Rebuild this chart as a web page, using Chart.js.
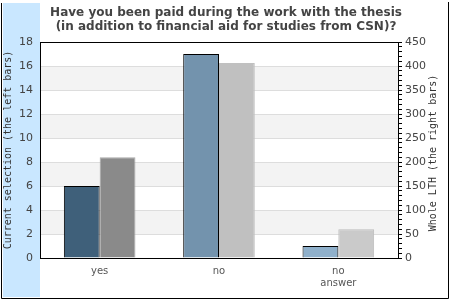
<!DOCTYPE html>
<html>
<head>
<meta charset="utf-8">
<script src="https://cdn.jsdelivr.net/npm/chart.js@4/dist/chart.umd.min.js"></script>
<style>
  body { margin: 0; background: #fff; }
</style>
</head>
<body>
<canvas id="chart" width="450" height="300"></canvas>
<script>
// answers and counts
var categories = ["yes", "no", ["no", "answer"]];
var currentSelection = [6, 17, 1];     // left bars, left axis
var wholeLTH = [210, 406, 60];         // right bars, right axis
var titleLines = ["Have you been paid during the work with the thesis",
                  "(in addition to financial aid for studies from CSN)?"];
var rightTitle = "Whole LTH (the right bars)";

var leftColors = ["#3f607a", "#7393ad", "#8fb0cb"];
var rightColors = ["#8a8a8a", "#c0c0c0", "#cacaca"];
var rightBorders = ["#a8a8a8", "#c0c0c0", "#bcbcbc"];

// light blue strip, grey bands, titles and frame
var decor = {
  id: "decor",
  beforeDraw: function(chart) {
    var ctx = chart.ctx, a = chart.chartArea, y = chart.scales.y;
    ctx.save();
    ctx.fillStyle = "#c9e7ff";
    ctx.fillRect(3, 3, 37, 294);
    ctx.fillStyle = "#f3f3f3";
    for (var v = 2; v < 18; v += 4) {
      var top = y.getPixelForValue(v + 2), bot = y.getPixelForValue(v);
      ctx.fillRect(a.left, top, a.right - a.left, bot - top);
    }
    ctx.restore();
  },
  afterDraw: function(chart) {
    var ctx = chart.ctx, a = chart.chartArea;
    ctx.save();
    ctx.fillStyle = "#444";
    ctx.font = "bold 12px 'DejaVu Sans'";
    ctx.textAlign = "center";
    ctx.textBaseline = "alphabetic";
    ctx.fillText(titleLines[0], 226, 16);
    ctx.fillText(titleLines[1], 226, 30);

    // right axis title reads bottom to top like the left one
    ctx.save();
    ctx.translate(433, 153);
    ctx.rotate(-Math.PI / 2);
    ctx.fillStyle = "#333";
    ctx.font = "10px 'DejaVu Sans Mono'";
    ctx.textBaseline = "middle";
    ctx.fillText(rightTitle, 0, 0);
    ctx.restore();

    ctx.strokeStyle = "#000";
    ctx.lineWidth = 1;
    ctx.beginPath();
    ctx.moveTo(a.left, Math.round(a.top) + 0.5);
    ctx.lineTo(a.right, Math.round(a.top) + 0.5);
    ctx.moveTo(1.5, 3);
    ctx.lineTo(1.5, 298.5);
    ctx.lineTo(448.5, 298.5);
    ctx.lineTo(448.5, 2);
    ctx.stroke();
    ctx.restore();
  }
};

new Chart(document.getElementById("chart"), {
  type: "bar",
  data: {
    labels: categories,
    datasets: [{
      label: "Current selection",
      data: currentSelection,
      yAxisID: "y",
      backgroundColor: leftColors,
      borderColor: "#000",
      borderWidth: 1,
      categoryPercentage: 0.6,
      barPercentage: 1.0
    }, {
      label: "Whole LTH",
      data: wholeLTH,
      yAxisID: "y2",
      backgroundColor: rightColors,
      borderColor: rightBorders,
      borderWidth: 1,
      categoryPercentage: 0.6,
      barPercentage: 1.0
    }]
  },
  options: {
    responsive: false,
    animation: false,
    layout: { padding: { top: 42 } },
    plugins: {
      legend: { display: false },
      tooltip: { enabled: false },
      title: { display: false }
    },
    scales: {
      x: {
        grid: { display: false, drawTicks: false },
        border: { display: true, color: "#000" },
        ticks: { color: "#555", font: { family: "DejaVu Sans", size: 10 }, padding: 7 },
        afterFit: function(s) { s.height = 42; }
      },
      y: {
        position: "left",
        min: 0, max: 18,
        grid: { color: "#dddddd", drawTicks: false },
        border: { display: true, color: "#000" },
        ticks: { stepSize: 2, color: "#444", padding: 7, font: { family: "DejaVu Sans", size: 11 } },
        title: {
          display: true,
          text: "Current selection (the left bars)",
          color: "#333",
          font: { family: "DejaVu Sans Mono", size: 10 },
          padding: { top: 2, bottom: 0 }
        },
        afterFit: function(s) { s.width = 40; }
      },
      y2: {
        position: "right",
        min: 0, max: 450,
        grid: { drawOnChartArea: false, color: "#000", tickLength: 4 },
        border: { display: true, color: "#000" },
        ticks: {
          stepSize: 10,
          autoSkip: false,
          color: "#444",
          padding: 3,
          font: { family: "DejaVu Sans", size: 11 },
          callback: function(v) { return v % 50 === 0 ? v : ""; }
        },
        afterFit: function(s) { s.width = 52; }
      }
    }
  },
  plugins: [decor]
});
</script>
</body>
</html>
